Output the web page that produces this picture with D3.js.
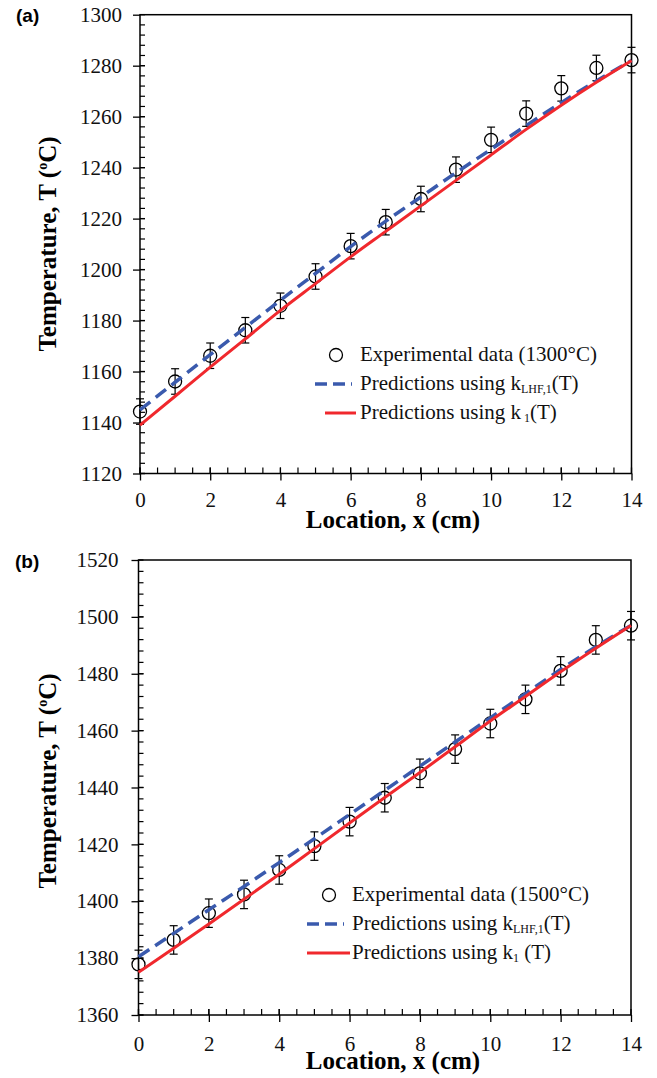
<!DOCTYPE html>
<html>
<head>
<meta charset="utf-8">
<script src="https://cdn.jsdelivr.net/npm/d3@7"></script>
<style>
  body { margin: 0; background: #fff; }
  svg { display: block; }
</style>
</head>
<body>
<div id="chart"></div>
<script>
// locations along the sample (cm)
let xLoc = [0, 1, 2, 3, 4, 5, 6, 7, 8, 9, 10, 11, 12, 13, 14]

// (a) 1300 C
let exp1300 = [1144.3, 1156.1, 1166.2, 1176.2, 1185.8, 1197.3, 1209.2, 1218.6, 1227.7, 1239.2, 1250.9, 1261.2, 1271.1, 1279.1, 1282.2]
let err1300 = [5, 5, 5, 5, 5, 5, 5, 5, 5, 5, 5, 5, 5, 5, 5]
let lhf1300 = [1145, 1155.8, 1166.6, 1177.3, 1188, 1198.5, 1209, 1219, 1228.5, 1238, 1247.2, 1256.5, 1265.5, 1274, 1282]
let k1300 = [1139, 1150.3, 1161.7, 1172.8, 1184, 1194.5, 1205, 1215, 1225, 1235, 1245, 1255, 1264.5, 1273.5, 1282]

// (b) 1500 C
let exp1500 = [1377.8, 1386.4, 1395.8, 1402.4, 1411, 1419.4, 1428, 1436.4, 1445, 1453.5, 1462.5, 1471, 1481, 1491.9, 1496.9]
let err1500 = [5, 5, 5, 5, 5, 5, 5, 5, 5, 5, 5, 5, 5, 5, 5]
let lhf1500 = [1380.5, 1388.7, 1397, 1405.2, 1413.6, 1422, 1430.5, 1439, 1447.5, 1456, 1464.5, 1473, 1481.5, 1489.5, 1497]
let k1500 = [1375, 1383.5, 1392, 1400.7, 1409.5, 1418.5, 1427.5, 1436.5, 1445.3, 1454.3, 1463.4, 1472, 1480.7, 1489, 1497]

let xTicks = [0, 2, 4, 6, 8, 10, 12, 14]
let yTicksA = [1120, 1140, 1160, 1180, 1200, 1220, 1240, 1260, 1280, 1300]
let yTicksB = [1360, 1380, 1400, 1420, 1440, 1460, 1480, 1500, 1520]

let serif = "'Liberation Serif', 'Times New Roman', serif"
let red = "#f0282d"
let blue = "#3a5aad"

let svg = d3.select("#chart").append("svg")
  .attr("width", 657)
  .attr("height", 1078)

function drawPanel(p){
  let x = d3.scaleLinear().domain([0, 14]).range([p.left, p.right])
  let y = d3.scaleLinear().domain([p.yTicks[0], p.yTicks[p.yTicks.length - 1]]).range([p.bottom, p.top])
  let g = svg.append("g")

  // minor ticks, inside
  let yMinor = d3.range(p.yTicks[0], p.yTicks[p.yTicks.length - 1], 4)
  g.selectAll(".ym").data(yMinor).enter().append("line")
    .attr("x1", p.left).attr("x2", p.left + 5)
    .attr("y1", d => y(d)).attr("y2", d => y(d))
    .attr("stroke", "#000").attr("stroke-width", 1.2)
  let xMinor = d3.range(0, 14, 0.5)
  g.selectAll(".xm").data(xMinor).enter().append("line")
    .attr("x1", d => x(d)).attr("x2", d => x(d))
    .attr("y1", p.bottom).attr("y2", p.bottom - 6)
    .attr("stroke", "#000").attr("stroke-width", 1.2)

  let yAxis = g.append("g")
    .attr("transform", "translate(" + p.left + ",0)")
    .call(d3.axisLeft(y).tickValues(p.yTicks).tickSizeInner(7).tickSizeOuter(0)
      .tickPadding(p.yPad).tickFormat(d3.format("d")))
  let xAxis = g.append("g")
    .attr("transform", "translate(0," + p.bottom + ")")
    .call(d3.axisBottom(x).tickValues(xTicks).tickSizeInner(7).tickSizeOuter(0)
      .tickPadding(p.xPad).tickFormat(d3.format("d")))
  ;[yAxis, xAxis].forEach(function(a){
    a.attr("font-family", serif).attr("font-size", 21)
    a.select(".domain").remove()
    a.selectAll(".tick line").attr("stroke-width", 1.3)
    a.selectAll(".tick text").attr("fill", "#111")
  })
  // major ticks cross the axis a little
  g.selectAll(".yM").data(p.yTicks).enter().append("line")
    .attr("x1", p.left).attr("x2", p.left + 5)
    .attr("y1", d => y(d)).attr("y2", d => y(d))
    .attr("stroke", "#000").attr("stroke-width", 1.3)
  g.selectAll(".xM").data(xTicks).enter().append("line")
    .attr("x1", d => x(d)).attr("x2", d => x(d))
    .attr("y1", p.bottom).attr("y2", p.bottom - 6)
    .attr("stroke", "#000").attr("stroke-width", 1.3)

  g.append("rect")
    .attr("x", p.left).attr("y", p.top)
    .attr("width", p.right - p.left).attr("height", p.bottom - p.top)
    .attr("fill", "none").attr("stroke", "#000").attr("stroke-width", 1.5)

  // experimental points with error bars
  let pts = xLoc.map((d, i) => ({x: d, t: p.exp[i], e: p.err[i]}))
  let eb = g.append("g").attr("stroke", "#000").attr("stroke-width", 1.2)
  pts.forEach(function(d){
    eb.append("line").attr("x1", x(d.x)).attr("x2", x(d.x))
      .attr("y1", y(d.t - d.e)).attr("y2", y(d.t + d.e))
    eb.append("line").attr("x1", x(d.x) - 4).attr("x2", x(d.x) + 4)
      .attr("y1", y(d.t - d.e)).attr("y2", y(d.t - d.e))
    eb.append("line").attr("x1", x(d.x) - 4).attr("x2", x(d.x) + 4)
      .attr("y1", y(d.t + d.e)).attr("y2", y(d.t + d.e))
  })
  g.selectAll(".pt").data(pts).enter().append("circle")
    .attr("cx", d => x(d.x)).attr("cy", d => y(d.t)).attr("r", 6.5)
    .attr("fill", "none").attr("stroke", "#000").attr("stroke-width", 1.3)

  let line = d3.line().x((d, i) => x(xLoc[i])).y(d => y(d)).curve(d3.curveMonotoneX)
  g.append("path").attr("d", line(p.lhf))
    .attr("fill", "none").attr("stroke", blue).attr("stroke-width", 3.5)
    .attr("stroke-dasharray", "13,7")
  g.append("path").attr("d", line(p.k1))
    .attr("fill", "none").attr("stroke", red).attr("stroke-width", 3)

  // legend
  let L = p.legend
  g.append("circle").attr("cx", L.cx).attr("cy", L.y0 - 6).attr("r", 6.5)
    .attr("fill", "none").attr("stroke", "#000").attr("stroke-width", 1.3)
  g.append("line").attr("x1", L.lx1).attr("x2", L.bx2)
    .attr("y1", L.y0 + 23).attr("y2", L.y0 + 23)
    .attr("stroke", blue).attr("stroke-width", 3.5).attr("stroke-dasharray", "12,6")
  g.append("line").attr("x1", L.rx1).attr("x2", L.rx2)
    .attr("y1", L.y0 + 52).attr("y2", L.y0 + 52)
    .attr("stroke", red).attr("stroke-width", 3)

  let lt = g.append("g").attr("font-family", serif).attr("font-size", 21).attr("fill", "#111")
  lt.append("text").attr("x", L.tx).attr("y", L.y0).text(p.expLabel)
  let t2 = lt.append("text").attr("x", L.tx).attr("y", L.y0 + 29)
  t2.append("tspan").text("Predictions using k")
  t2.append("tspan").attr("font-size", 12).attr("dy", 3).text("LHF,1")
  t2.append("tspan").attr("dy", -3).text("(T)")
  let t3 = lt.append("text").attr("x", L.tx).attr("y", L.y0 + 58)
  t3.append("tspan").text("Predictions using k")
  t3.append("tspan").attr("font-size", 12).attr("dy", 3).text(p.k1Sub)
  t3.append("tspan").attr("dy", -3).text(p.k1Tail)

  // axis titles
  svg.append("text")
    .attr("x", p.xTitleX).attr("y", p.xTitleY)
    .attr("text-anchor", "middle")
    .attr("font-family", serif).attr("font-weight", "bold").attr("font-size", 25)
    .text("Location, x (cm)")
  let yt = svg.append("text")
    .attr("transform", "translate(" + p.yTitleX + "," + p.yTitleY + ") rotate(-90)")
    .attr("text-anchor", "middle")
    .attr("font-family", serif).attr("font-weight", "bold").attr("font-size", 25)
  yt.append("tspan").text("Temperature, T (")
  yt.append("tspan").attr("font-size", 14).attr("dy", -9).text("o")
  yt.append("tspan").attr("dy", 9).text("C)")

  svg.append("text")
    .attr("x", p.tagX).attr("y", p.tagY)
    .attr("font-family", "'Liberation Sans', Arial, sans-serif")
    .attr("font-weight", "bold").attr("font-size", 19)
    .text(p.tag)
}

drawPanel({
  left: 140, right: 631.5, top: 14.7, bottom: 473.5,
  yTicks: yTicksA, yPad: 11, xPad: 12,
  exp: exp1300, err: err1300, lhf: lhf1300, k1: k1300,
  expLabel: "Experimental data (1300°C)", k1Sub: " 1", k1Tail: "(T)",
  legend: {cx: 336, y0: 361, tx: 360, lx1: 315, bx2: 352, rx1: 325, rx2: 356},
  xTitleX: 393, xTitleY: 528, yTitleX: 56, yTitleY: 244,
  tag: "(a)", tagX: 16, tagY: 22
})

drawPanel({
  left: 138.5, right: 631, top: 560, bottom: 1015,
  yTicks: yTicksB, yPad: 13, xPad: 14,
  exp: exp1500, err: err1500, lhf: lhf1500, k1: k1500,
  expLabel: "Experimental data (1500°C)", k1Sub: "1", k1Tail: " (T)",
  legend: {cx: 329, y0: 901, tx: 352, lx1: 307, bx2: 344, rx1: 307, rx2: 350},
  xTitleX: 393, xTitleY: 1069, yTitleX: 56, yTitleY: 781,
  tag: "(b)", tagX: 15, tagY: 568
})
</script>
</body>
</html>
